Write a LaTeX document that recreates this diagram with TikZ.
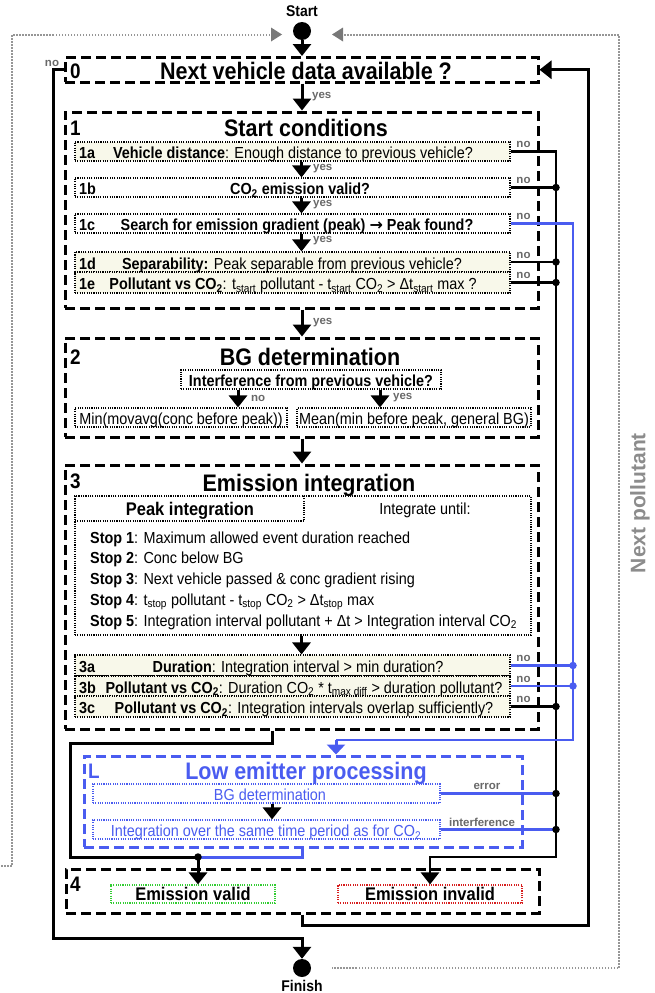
\documentclass[tikz,border=0pt]{standalone}
\usepackage{fontspec}
\setmainfont{Liberation Sans}[FakeStretch=0.9]
\newfontfamily\labfont{Liberation Sans}
\newfontfamily\djvfont{DejaVu Sans}
\usetikzlibrary{arrows.meta,calc}
\definecolor{lblue}{RGB}{74,92,240}
\definecolor{beige}{RGB}{248,248,234}
\definecolor{dotgray}{RGB}{150,150,150}
\definecolor{labgray}{RGB}{105,105,105}
\definecolor{npgray}{RGB}{140,140,140}
\definecolor{trigray}{RGB}{120,120,120}
\definecolor{okgreen}{RGB}{50,205,50}
\definecolor{badred}{RGB}{215,30,30}
\newcommand{\fsz}[1]{\fontsize{#1}{#1}\selectfont}
\newcommand{\sbs}[1]{\textsubscript{#1}}
\begin{document}
\begin{tikzpicture}[x=1pt,y=-1pt,
  bigbox/.style={draw, line width=3pt, dash pattern=on 10pt off 5pt, inner sep=0pt, minimum width=473pt},
  rowbox/.style={draw, line width=1.1pt, dash pattern=on 1.1pt off 1.2pt, inner sep=0pt, minimum width=435pt},
  beigebox/.style={rowbox, fill=beige},
  ttl/.style={font=\bfseries\fsz{23.9}, anchor=base, inner sep=0pt},
  numl/.style={font=\bfseries\fsz{21}, anchor=base west, inner sep=0pt},
  txt/.style={font=\fsz{16}, anchor=base, inner sep=0pt},
  rlab/.style={font=\bfseries\fsz{16}, anchor=base west, inner sep=0pt},
  lab/.style={font=\labfont\bfseries\fsz{11.5}, text=labgray, inner sep=0pt},
  ylab/.style={lab, anchor=west},
  arr/.style={line width=3pt, -{Triangle[width=18pt,length=12pt]}},
  blarr/.style={line width=3pt, lblue, -{Triangle[width=18pt,length=10pt]}},
  bus/.style={line width=2.7pt},
  bbus/.style={line width=2.7pt, lblue},
  outer/.style={line width=3pt},
  dot/.style={circle, fill=black, inner sep=0pt, minimum size=7.5pt},
  bdot/.style={circle, fill=lblue, inner sep=0pt, minimum size=7.5pt},
  gdot/.style={line width=1.5pt, dotgray, dash pattern=on 1.5pt off 1.5pt},
]
\useasboundingbox (0,0) rectangle (655,993);

% ---------- start / finish ----------
\node[font=\bfseries\fsz{15.5}, anchor=base, inner sep=0pt] (starttxt) at (302,16.5) {Start};
\node[circle, fill=black, minimum size=18pt, inner sep=0pt] (start) at (302,31) {};
\node[circle, fill=black, minimum size=18pt, inner sep=0pt] (finish) at (302,968) {};
\node[font=\bfseries\fsz{15.5}, anchor=base, inner sep=0pt] (fintxt) at (302,991.5) {Finish};

% grey "next pollutant" loop
\fill[trigray] (271,27.5) -- (282,34.5) -- (271,41.5) -- cycle;
\fill[trigray] (343,27.5) -- (332,34.5) -- (343,41.5) -- cycle;
\coordinate (gL1) at (270,35);
\coordinate (gL2) at (12,35);
\coordinate (gL3) at (12,866);
\coordinate (gL4) at (0,866);
\coordinate (gR1) at (344,35);
\coordinate (gR2) at (619,35);
\coordinate (gR3) at (619,968);
\coordinate (gR4) at (332,968);
\draw[gdot] (gL1) -- (gL2) -- (gL3) -- (gL4);
\draw[gdot] (gR1) -- (gR2) -- (gR3) -- (gR4);
\node[rotate=90, font=\labfont\bfseries\fsz{21}, text=npgray, inner sep=0pt] (np) at (640,503) {Next pollutant};

% ---------- box 0 ----------
\node[bigbox, minimum height=24.5pt] (b0) at (301.5,69.75) {};
\node[numl] (n0) at (70,78) {0};
\node[ttl] (t0) at (306,79) {Next vehicle data available ?};
\node[lab] (no0) at (52,63) {no};

% ---------- box 1 ----------
\node[bigbox, minimum height=196pt] (b1) at (301.5,210) {};
\node[numl] (n1) at (70,135.5) {1};
\node[ttl] (t1) at (306,136.5) {Start conditions};

\node[beigebox, minimum height=19pt] (r1a) at (292.5,151.5) {};
\node[rowbox, minimum height=19pt] (r1b) at (292.5,187.5) {};
\node[rowbox, minimum height=19pt] (r1c) at (292.5,223.5) {};
\node[beigebox, minimum height=20pt] (r1d) at (292.5,262) {};
\node[beigebox, minimum height=21pt] (r1e) at (292.5,282.5) {};

\node[rlab] (l1a) at (79,158.7) {1a};
\node[rlab] (l1b) at (79,194.7) {1b};
\node[rlab] (l1c) at (79,230.7) {1c};
\node[rlab] (l1d) at (79,269.2) {1d};
\node[rlab] (l1e) at (79,289.7) {1e};

\node[txt] (x1a) at (293,158.7) {\textbf{Vehicle distance}: Enough distance to previous vehicle?};
\node[txt] (x1b) at (300,194.7) {\textbf{CO\sbs{2} emission valid?}};
\node[txt] (x1c) at (297,230.7) {\textbf{Search for emission gradient (peak) {\djvfont\bfseries →} Peak found?}};
\node[txt] (x1d) at (292,269.2) {\textbf{Separability:} Peak separable from previous vehicle?};
\node[txt] (x1e) at (293,289.7) {\textbf{Pollutant vs CO\sbs{2}}: t\sbs{start} pollutant - t\sbs{start} CO\sbs{2} > Δt\sbs{start} max ?};

\draw[arr] (r1a.south -| b1.north) -- (r1b.north -| b1.north);
\draw[arr] (r1b.south -| b1.north) -- (r1c.north -| b1.north);
\draw[arr] (r1c.south -| b1.north) -- (r1d.north -| b1.north);
\node[ylab] (y1a) at (313,169) {yes};
\node[ylab] (y1b) at (313,205) {yes};
\node[ylab] (y1c) at (313,241) {yes};

% ---------- box 2 ----------
\node[bigbox, minimum height=99pt] (b2) at (301.5,387.5) {};
\node[numl] (n2) at (70,364.5) {2};
\node[ttl] (t2) at (310,365.5) {BG determination};
\node[rowbox, minimum width=260pt, minimum height=19pt] (interf) at (311,379.5) {};
\node[txt] (xinterf) at (311,386.3) {\textbf{Interference from previous vehicle?}};
\node[rowbox, minimum width=212pt, minimum height=19pt] (minb) at (181,417.5) {};
\node[rowbox, minimum width=234pt, minimum height=19pt] (meanb) at (414,417.5) {};
\node[txt] (xmin) at (181,424.7) {Min(movavg(conc before peak))};
\node[txt] (xmean) at (414,424.7) {Mean(min before peak, general BG)};
\coordinate (ano) at (238,0);
\coordinate (ayes) at (380,0);
\draw[arr] (interf.south -| ano) -- (minb.north -| ano);
\draw[arr] (interf.south -| ayes) -- (meanb.north -| ayes);
\node[ylab] (lno2) at (251,398) {no};
\node[ylab] (lyes2) at (393,398) {yes};

% ---------- box 3 ----------
\node[bigbox, minimum height=264pt] (b3) at (301.5,597) {};
\node[numl] (n3) at (70,488.5) {3};
\node[ttl] (t3) at (309,491.5) {Emission integration};
\node[rowbox, minimum width=456pt, minimum height=139pt] (peak) at (303,565.5) {};
\node[rowbox, minimum width=229pt, minimum height=25pt] (tab) at (189.5,508.5) {};
\node[font=\bfseries\fsz{18.3}, anchor=base, inner sep=0pt] (xtab) at (190,515) {Peak integration};
\node[txt] (xuntil) at (425,514.7) {Integrate until:};
\node[txt, anchor=base west] (s1) at (90,543.2) {\textbf{Stop 1}: Maximum allowed event duration reached};
\node[txt, anchor=base west] (s2) at (90,563.9) {\textbf{Stop 2}: Conc below BG};
\node[txt, anchor=base west] (s3) at (90,584.6) {\textbf{Stop 3}: Next vehicle passed \& conc gradient rising};
\node[txt, anchor=base west] (s4) at (90,605.3) {\textbf{Stop 4}: t\sbs{stop} pollutant - t\sbs{stop} CO\sbs{2} > Δt\sbs{stop} max};
\node[txt, anchor=base west] (s5) at (90,626) {\textbf{Stop 5}: Integration interval pollutant + Δt > Integration interval CO\sbs{2}};

\node[beigebox, minimum height=21pt] (r3a) at (292.5,665.5) {};
\node[beigebox, minimum height=20pt] (r3b) at (292.5,686) {};
\node[beigebox, minimum height=21pt] (r3c) at (292.5,706.5) {};
\node[rlab] (l3a) at (79,672.7) {3a};
\node[rlab] (l3b) at (79,693.2) {3b};
\node[rlab] (l3c) at (79,713.7) {3c};
\node[txt] (x3a) at (298,672.7) {\textbf{Duration}: Integration interval > min duration?};
\node[txt] (x3b) at (304,693.2) {\textbf{Pollutant vs CO\sbs{2}}: Duration CO\sbs{2} * t\sbs{max diff} > duration pollutant?};
\node[txt] (x3c) at (304,713.7) {\textbf{Pollutant vs CO\sbs{2}}: Integration intervals overlap sufficiently?};
\draw[arr] (peak.south -| b3.north) -- (r3a.north -| b3.north);

% ---------- box L ----------
\node[draw=lblue, line width=3pt, dash pattern=on 10pt off 5pt, inner sep=0pt, minimum width=438pt, minimum height=91pt] (lbox) at (303,801.5) {};
\node[numl, text=lblue] (nL) at (88,778.5) {L};
\node[ttl, text=lblue] (tL) at (306,779.5) {Low emitter processing};
\node[rowbox, draw=lblue, minimum width=347pt, minimum height=19pt] (bgL) at (266.5,793.5) {};
\node[rowbox, draw=lblue, minimum width=347pt, minimum height=19pt] (intL) at (266.5,829.5) {};
\node[txt, text=lblue] (xbgL) at (270,800.7) {BG determination};
\node[txt, text=lblue] (xintL) at (266,836.7) {Integration over the same time period as for CO\sbs{2}};
\coordinate (aL) at (272,0);
\draw[arr] (bgL.south -| aL) -- (intL.north -| aL);
\node[lab] (lerr) at (487,786) {error};
\node[lab] (lint) at (482,822) {interference};

% ---------- box 4 ----------
\node[bigbox, minimum height=44pt] (b4) at (302.5,891) {};
\node[numl] (n4) at (70,891.5) {4};
\node[rowbox, draw=okgreen, minimum width=164pt, minimum height=18pt] (valid) at (193,894) {};
\node[rowbox, draw=badred, minimum width=184pt, minimum height=18pt] (invalid) at (430,894) {};
\node[font=\bfseries\fsz{18.3}, anchor=base, inner sep=0pt] (xvalid) at (193,900.5) {Emission valid};
\node[font=\bfseries\fsz{18.3}, anchor=base, inner sep=0pt] (xinvalid) at (430,900.5) {Emission invalid};

% ---------- main flow arrows ----------
\draw[arr] (start.south) -- (start.south |- b0.north);
\draw[arr] (b0.south -| 302,0) -- (b1.north -| 302,0);
\node[ylab] (y0) at (312,97) {yes};
\draw[arr] (b1.south -| 302,0) -- (b2.north -| 302,0);
\node[ylab] (y1) at (313,323) {yes};
\draw[arr] (b2.south -| 302,0) -- (b3.north -| 302,0);

% ---------- bus lines ----------
\coordinate (busx) at (556,0);
\coordinate (bbusx) at (573,0);
\coordinate (busend) at (556,857);
\coordinate (jv) at (198,857);
\coordinate (bl1) at (573,740);
\coordinate (bl2) at (336,740);

% black "invalid" bus
\draw[arr, line width=2.7pt] (r1a.east) -- (r1a.east -| busx) -- (busend) -- (busend -| invalid.north) -- (invalid.north);
\draw[bus] (r1b.east) -- (r1b.east -| busx);
\draw[bus] (r1d.east) -- (r1d.east -| busx);
\draw[bus] (r1e.east) -- (r1e.east -| busx);
\draw[bus] (r3c.east) -- (r3c.east -| busx);

% blue "low emitter" bus
\draw[bbus] (r1c.east) -- (r1c.east -| bbusx) -- (bl1) -- (bl2);
\draw[blarr] (bl2) -- (bl2 |- lbox.north);
\draw[bbus] (r3a.east) -- (r3a.east -| bbusx);
\draw[bbus] (r3b.east) -- (r3b.east -| bbusx);
\node[bdot] (d3a) at (r3a.east -| bbusx) {};
\node[bdot] (d3b) at (r3b.east -| bbusx) {};

% L exits
\draw[bbus] (bgL.east) -- (bgL.east -| busx);
\draw[bbus] (intL.east) -- (intL.east -| busx);

\node[dot] (d1b) at (r1b.east -| busx) {};
\node[dot] (d1d) at (r1d.east -| busx) {};
\node[dot] (d1e) at (r1e.east -| busx) {};
\node[dot] (d3c) at (r3c.east -| busx) {};
\node[dot] (dbg) at (bgL.east -| busx) {};
\node[dot] (dint) at (intL.east -| busx) {};

% "no" labels
\node[lab] (no1a) at (523.5,144.5) {no};
\node[lab] (no1b) at (523.5,180.5) {no};
\node[lab] (no1c) at (523.5,216.5) {no};
\node[lab] (no1d) at (523.5,255) {no};
\node[lab] (no1e) at (523.5,275.5) {no};
\node[lab] (no3a) at (523.5,658.5) {no};
\node[lab] (no3b) at (523.5,679) {no};
\node[lab] (no3c) at (523.5,699.5) {no};

% "valid" path
\coordinate (v1) at (272,743);
\coordinate (v2) at (70,743);
\coordinate (v3) at (70,857);
\draw[outer] (b3.south -| v1) -- (v1) -- (v2) -- (v3) -- (jv);
\coordinate (lb1) at (302,857);
\draw[bbus, line width=3pt] (lbox.south -| lb1) -- (lb1) -- (jv);
\draw[arr] (jv) -- (jv |- valid.north);
\node[dot] (djv) at (jv) {};

% return to box 0
\coordinate (R1) at (302,925);
\coordinate (R2) at (588,925);
\draw[arr] (b4.south -| R1) -- (R1) -- (R2) -- (R2 |- b0.east) -- (b0.east);

% exit to finish
\coordinate (L1) at (53,69.75);
\coordinate (L2) at (53,938);
\coordinate (L3) at (302,938);
\draw[arr] (b0.west) -- (L1) -- (L2) -- (L3) -- (finish.north);
\end{tikzpicture}
\end{document}
